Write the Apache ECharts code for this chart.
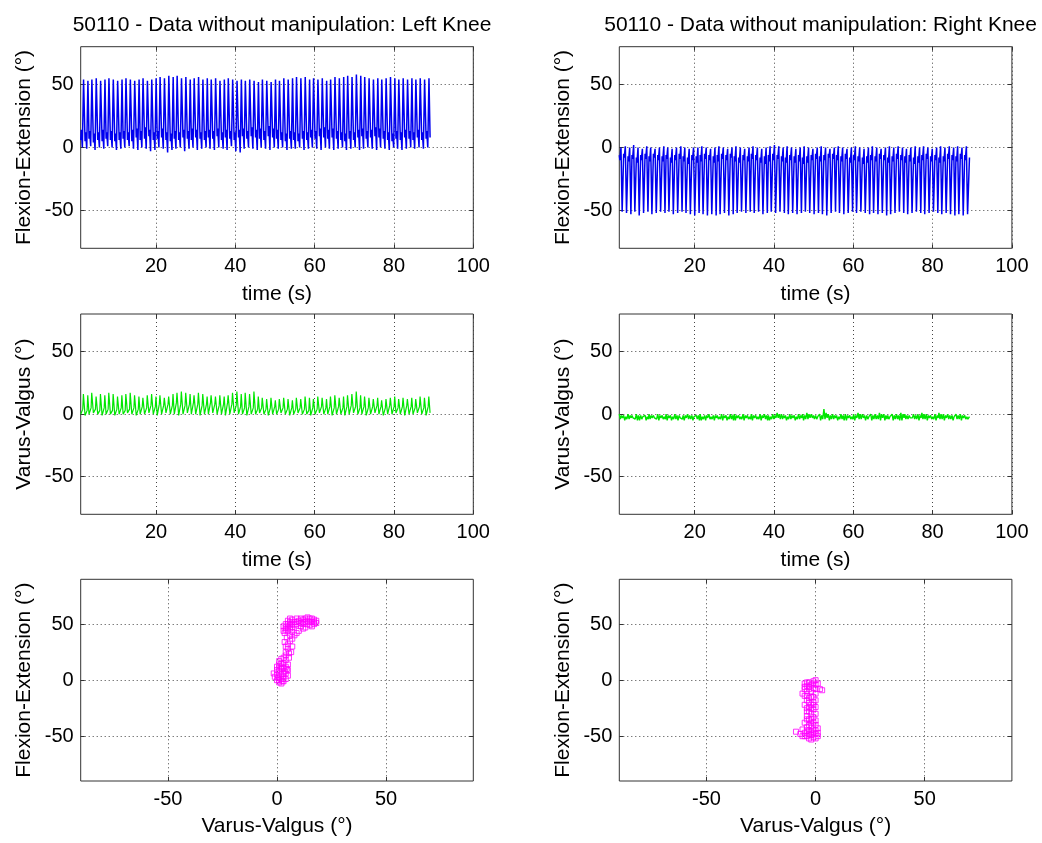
<!DOCTYPE html>
<html>
<head>
<meta charset="utf-8">
<script src="https://cdn.jsdelivr.net/npm/echarts@6/dist/echarts.min.js"></script>
<style>
html,body{margin:0;padding:0;background:#fff;}
#chart{width:1042px;height:843px;}
</style>
</head>
<body>
<div id="chart"></div>
<script>
// ---------- DATA ----------
const titles = ['50110 - Data without manipulation: Left Knee', '50110 - Data without manipulation: Right Knee'];
const timeTicks = [20, 40, 60, 80, 100];
const angleTicks = [-50, 0, 50];

// cycle start times (s), left knee
const tL = [
  1.0, 2.1, 3.1, 4.2, 5.3, 6.4, 7.4, 8.5, 9.6, 10.7,
  11.7, 12.8, 13.9, 15.0, 16.0, 17.1, 18.2, 19.3, 20.3, 21.4,
  22.5, 23.6, 24.6, 25.7, 26.8, 27.9, 28.9, 30.0, 31.1, 32.2,
  33.2, 34.3, 35.4, 36.5, 37.5, 38.6, 39.7, 40.8, 41.8, 42.9,
  44.0, 45.1, 46.1, 47.2, 48.3, 49.4, 50.4, 51.5, 52.6, 53.7,
  54.7, 55.8, 56.9, 58.0, 59.0, 60.1, 61.2, 62.3, 63.3, 64.4,
  65.5, 66.6, 67.6, 68.7, 69.8, 70.9, 71.9, 73.0, 74.1, 75.2,
  76.2, 77.3, 78.4, 79.5, 80.5, 81.6, 82.7, 83.8, 84.8, 85.9,
  87.0, 88.1
];
// left knee flexion-extension per cycle: heel strike, stance flexion, extension low, swing peak
const heelFL = [
  6, 5, 7, 4, 6, 5, 7, 6, 5, 6,
  7, 6, 5, 8, 6, 7, 9, 6, 7, 8,
  6, 5, 7, 6, 8, 7, 6, 8, 7, 6,
  8, 7, 9, 6, 8, 7, 6, 8, 9, 7,
  9, 8, 7, 6, 9, 8, 7, 6, 5, 7,
  6, 5, 7, 6, 8, 7, 9, 8, 7, 8,
  7, 6, 5, 7, 6, 8, 9, 7, 8, 9,
  8, 7, 6, 5, 7, 6, 8, 7, 6, 8,
  6, 7
];
const stanceFL = [
  14, 12, 13, 11, 12, 14, 12, 13, 11, 12,
  13, 12, 14, 15, 13, 16, 14, 12, 13, 15,
  12, 11, 13, 12, 14, 13, 15, 14, 12, 13,
  14, 13, 15, 12, 14, 13, 12, 14, 15, 13,
  16, 14, 15, 13, 17, 15, 14, 12, 11, 13,
  12, 11, 13, 12, 14, 13, 15, 16, 14, 15,
  13, 12, 11, 13, 12, 14, 15, 13, 14, 16,
  15, 13, 12, 11, 13, 12, 14, 13, 12, 14,
  12, 13
];
const lowFL = [
  0, -1, 1, -2, 0, -1, 1, 0, -2, -1,
  0, 1, -1, -2, 0, -1, -3, -2, 0, -1,
  -4, -2, -1, 0, -3, -1, 0, -2, -1, 0,
  -1, -2, 0, -1, -2, 1, -3, -4, -1, 0,
  -1, -2, 0, -1, -2, 0, -1, 0, -2, -1,
  -1, 0, -2, -1, 0, -1, -2, 0, -1, -2,
  -1, 0, -2, -1, 0, -2, -1, 0, -1, -2,
  0, -1, -2, 0, -1, -2, -1, 0, -1, 0,
  -1, 0
];
const peakFL = [
  54, 53, 54, 55, 53, 54, 55, 54, 53, 54,
  55, 54, 53, 54, 55, 53, 54, 55, 56, 55,
  57, 56, 57, 55, 56, 54, 55, 56, 54, 55,
  54, 55, 53, 54, 55, 54, 53, 54, 53, 54,
  53, 52, 54, 53, 52, 54, 53, 55, 54, 55,
  56, 55, 56, 54, 55, 54, 55, 53, 54, 56,
  55, 56, 57, 56, 58, 57, 56, 55, 54, 55,
  54, 55, 56, 55, 54, 55, 54, 55, 54, 55,
  54, 55
];
const endFL = [89.1, 8];

// left knee varus-valgus per cycle: low, plateau, spike peak
const lowVL = [
  0, -1, 0, 1, 0, -1, 0, 0, -1, 0,
  0, 1, 0, -1, 0, 0, 1, 0, -1, 0,
  1, 0, 0, -1, 0, 1, 0, 0, -1, 0,
  0, 1, 0, 0, -1, 0, 1, 0, 0, -1,
  0, 0, 1, 0, -1, 0, 0, 1, 0, -1,
  0, 1, 0, 0, -1, 0, 1, 0, 0, -1,
  0, 0, -1, 0, 1, 0, 0, -1, 0, 1,
  0, -1, 0, 0, 1, 0, -1, 0, 0, 1,
  0, -1
];
const midVL = [
  4, 3, 5, 4, 3, 5, 4, 3, 4, 5,
  3, 4, 5, 4, 6, 5, 7, 6, 8, 7,
  8, 7, 9, 8, 7, 8, 9, 8, 7, 8,
  9, 8, 7, 8, 9, 8, 7, 6, 5, 6,
  5, 4, 5, 4, 5, 6, 4, 5, 4, 5,
  4, 5, 4, 3, 5, 4, 6, 5, 6, 5,
  6, 5, 6, 7, 6, 5, 6, 5, 6, 7,
  6, 5, 7, 6, 5, 6, 7, 6, 5, 6,
  5, 6
];
const peakVL = [
  16, 15, 17, 14, 16, 15, 17, 16, 14, 15,
  16, 17, 15, 14, 13, 15, 16, 14, 15, 13,
  14, 16, 17, 18, 17, 16, 15, 17, 16, 14,
  15, 14, 15, 14, 15, 17, 18, 16, 17, 16,
  18, 14, 13, 12, 13, 11, 12, 13, 12, 11,
  13, 12, 14, 13, 12, 14, 13, 12, 14, 15,
  13, 14, 15, 16, 18, 15, 14, 13, 12, 13,
  11, 12, 13, 14, 12, 13, 12, 13, 12, 14,
  13, 14
];
const endVL = [89.1, 1];

// cycle start times (s), right knee
const tR = [
  1.0, 2.1, 3.2, 4.2, 5.3, 6.4, 7.5, 8.5, 9.6, 10.7,
  11.8, 12.8, 13.9, 15.0, 16.1, 17.1, 18.2, 19.3, 20.4, 21.4,
  22.5, 23.6, 24.7, 25.7, 26.8, 27.9, 29.0, 30.0, 31.1, 32.2,
  33.3, 34.3, 35.4, 36.5, 37.6, 38.6, 39.7, 40.8, 41.9, 42.9,
  44.0, 45.1, 46.2, 47.2, 48.3, 49.4, 50.5, 51.5, 52.6, 53.7,
  54.8, 55.8, 56.9, 58.0, 59.1, 60.1, 61.2, 62.3, 63.4, 64.4,
  65.5, 66.6, 67.7, 68.7, 69.8, 70.9, 72.0, 73.0, 74.1, 75.2,
  76.3, 77.3, 78.4, 79.5, 80.6, 81.6, 82.7, 83.8, 84.9, 85.9,
  87.0, 88.1
];
// right knee flexion-extension per cycle (flexion negative)
const heelFR = [
  -6, -5, -7, -6, -8, -6, -5, -7, -5, -6,
  -7, -6, -8, -6, -5, -7, -8, -6, -7, -6,
  -5, -6, -7, -6, -5, -6, -5, -7, -8, -6,
  -7, -5, -6, -8, -7, -6, -5, -6, -7, -8,
  -6, -7, -6, -8, -7, -6, -5, -7, -6, -5,
  -5, -6, -7, -5, -8, -6, -7, -8, -7, -6,
  -7, -5, -6, -8, -7, -5, -6, -7, -6, -8,
  -7, -6, -5, -7, -6, -8, -7, -5, -6, -7,
  -5, -6
];
const stanceFR = [
  -10, -8, -11, -9, -12, -10, -9, -11, -8, -10,
  -11, -9, -12, -10, -9, -11, -13, -10, -12, -11,
  -9, -10, -12, -11, -9, -10, -8, -11, -12, -10,
  -11, -9, -10, -12, -13, -11, -10, -9, -11, -12,
  -10, -12, -11, -13, -12, -10, -9, -11, -10, -8,
  -9, -10, -11, -9, -12, -10, -11, -13, -12, -10,
  -11, -9, -10, -12, -11, -9, -10, -12, -11, -13,
  -12, -10, -9, -11, -10, -12, -11, -9, -10, -11,
  -9, -10
];
const highFR = [
  0, 1, 0, 2, 0, -1, 1, 0, -1, 0,
  1, 0, -1, 0, 1, 0, -1, 0, 0, 1,
  0, -1, 0, 1, 0, -1, 0, 1, 0, -1,
  0, 1, 0, -1, 0, 1, 2, 1, 0, 1,
  0, -1, 0, 1, 0, -1, 0, 1, 0, -1,
  0, 1, 0, -1, 0, 1, 0, -1, 0, 1,
  0, -1, 0, 1, 0, 1, 0, -1, 0, 1,
  0, 1, 0, -1, 0, 1, 0, 1, 0, 1,
  0, 1
];
const bottomFR = [
  -51, -52, -53, -51, -54, -52, -51, -53, -52, -51,
  -52, -51, -53, -52, -51, -52, -53, -54, -52, -53,
  -54, -53, -54, -53, -52, -54, -53, -52, -51, -52,
  -51, -52, -51, -53, -52, -51, -52, -51, -52, -53,
  -52, -53, -52, -51, -52, -53, -52, -53, -54, -52,
  -51, -52, -53, -52, -51, -52, -51, -52, -53, -52,
  -53, -52, -54, -53, -52, -51, -52, -53, -52, -51,
  -52, -53, -52, -51, -52, -53, -52, -53, -54, -53,
  -54, -53
];
const endFR = [89.3, -8];

// right knee varus-valgus per cycle: two small oscillations
const hiVR = [
  0, -1, 0, -1, 0, -1, -1, 0, -1, 0,
  -1, 0, -1, 0, -1, -1, 0, -1, -1, 0,
  -1, 0, -1, -1, 0, -1, 0, 0, -1, 0,
  -1, 0, -1, 0, 0, -1, 0, 1, 0, -1,
  0, -1, 0, 0, 1, 0, -1, 0, 4, 0,
  0, -1, 0, 0, -1, 0, 1, 0, -1, 0,
  0, 1, 0, -1, 0, 0, 1, 0, -1, 0,
  0, 1, 0, -1, 0, 1, 0, 0, -1, 0,
  0, -1
];
const loVR = [
  -4, -5, -4, -3, -5, -4, -5, -4, -3, -5,
  -4, -5, -5, -4, -3, -5, -4, -5, -4, -5,
  -5, -4, -5, -4, -5, -5, -4, -5, -4, -5,
  -4, -5, -4, -5, -4, -5, -4, -3, -4, -5,
  -4, -5, -4, -5, -4, -3, -4, -5, -4, -5,
  -4, -5, -4, -5, -4, -5, -4, -3, -4, -5,
  -4, -5, -5, -4, -5, -4, -5, -4, -3, -4,
  -5, -4, -5, -4, -5, -4, -5, -4, -5, -4,
  -5, -4
];
const hi2VR = [
  -1, -2, -1, -2, -1, -2, -2, -1, -2, -1,
  -2, -1, -2, -1, -2, -1, -1, -2, -1, -2,
  -1, -2, -1, -2, -1, -2, -1, -1, -2, -1,
  -2, -1, -2, -1, -1, -2, -1, 0, -1, -2,
  -1, -2, -1, -1, 0, -1, -2, -1, 1, -1,
  -1, -2, -1, -1, -2, -1, 0, -1, -2, -1,
  -1, 0, -1, -2, -1, -1, 0, -1, -2, -1,
  -1, 0, -1, -2, -1, 0, -1, -1, -2, -1,
  -1, -2
];
const lo2VR = [
  -3, -4, -3, -4, -5, -3, -4, -3, -4, -3,
  -4, -3, -4, -5, -4, -3, -4, -3, -5, -4,
  -3, -4, -3, -4, -3, -4, -5, -3, -4, -3,
  -4, -3, -4, -3, -5, -4, -3, -4, -3, -4,
  -3, -4, -3, -4, -3, -4, -3, -4, -3, -4,
  -3, -4, -5, -3, -4, -3, -4, -5, -3, -4,
  -4, -3, -4, -3, -4, -5, -3, -4, -3, -4,
  -3, -4, -3, -4, -3, -4, -3, -4, -3, -4,
  -3, -4
];
const endVR = [89.3, -2];

// time (s after cycle start) of each key value inside a cycle
const phaseFE = [0, 0.15, 0.42, 0.72];
const phaseVL = [0, 0.52, 0.68];
const phaseVR = [0, 0.27, 0.54, 0.8];

// Varus-Valgus (x) vs Flexion-Extension (y) scatter, degrees
const scatterL = [
  [0,5],[0.5,2],[1,-2],[2,-3],[3,-1],[4,1],[1,8],[2,5],[3,3],[4,6],[4.5,10],[2,12],
  [3,15],[1,17],[4,18],[5,14],[3,20],[4,22],[2,10],[0,9],[1,0],[3.5,8],[5,4],[2.5,-1],
  [-1,3],[-1.5,6],[0,12],[1,14],[2,19],[0,0],[1,3],[2,1],[3,6],[4,12],[5,9],[1,11],[2,15],[3,11],
  [4,25],[5,28],[5,32],[6,35],[4.5,38],[6,40],[5,44],[3.5,42],[7,30],[6.5,25],[5.5,20],[7,37],
  [4,30],[3.5,34],[5.5,24],
  [3,48],[4,45],[5,50],[6,52],[7,47],[8,52],[9,50],[10,53],[11,51],[12,54],[13,52],[14,53],
  [15,55],[16,52],[17,54],[17,50],[16,48],[15,49],[13,47],[12,46],[10,44],[9,42],[8,40],
  [7,43],[6,46],[11,48],[14,50],[18,53],[9,55],[6,49],[4,50],[3,44],[12,50],[16,55],[7,50],
  [5,47],[8,49],[11,55],[13,55],[14,56],[15,52],[17,52],[18,51],[9,52],[6,55],[5,53],[7,54],[12,52],[4,47]
];
const scatterR = [
  [-5,-3],[-4,-5],[-3,-2],[-1,-1],[0,0],[0,-4],[1,-3],[2,-8],[3,-9],[-5,-8],[-4,-10],
  [-5,-14],[-2,-10],[-1,-7],[0,-12],[-1,-15],[-4,-18],[-3,-20],[-2,-22],[-1,-20],[0,-18],
  [-4,-25],[-3,-28],[-2,-30],[-1,-26],[0,-24],[-4,-32],[-3,-35],[-2,-38],[-1,-33],[0,-30],
  [-5,-38],[-4,-42],[-3,-45],[-2,-41],[-1,-44],[0,-40],[1,-43],[-6,-44],[-5,-47],[-4,-50],
  [-3,-52],[-2,-49],[-1,-51],[0,-48],[1,-50],[-9,-46],[-7,-48],[-6,-50],[0,-52],[-2,-53],
  [-5,-6],[-6,-12],[-3,-16],[1,-47],[-5,-22],[-4,-28],[-2,-46],[-3,-8],[0,-36],
  [-4,-2],[-2,-4],[-1,-3],[-3,-6],[-4,-35],[-3,-40],[-2,-35],[-1,-38],[-4,-45],[-5,-50],
  [-3,-48],[-1,-47],[0,-45],[-2,-25],[-1,-22],[-3,-24],[0,-8],[-2,-15],[-4,-14]
];

// ---------- build ----------
function cycles(times, phases, vals, endPt) {
  const out = [];
  for (let i = 0; i < times.length; i++) {
    for (let k = 0; k < phases.length; k++) {
      out.push([+(times[i] + phases[k]).toFixed(2), vals[k][i]]);
    }
  }
  out.push(endPt);
  return out;
}
const dataFL = cycles(tL, phaseFE, [heelFL, stanceFL, lowFL, peakFL], endFL);
const dataFR = cycles(tR, phaseFE, [heelFR, stanceFR, highFR, bottomFR], endFR);
const dataVL = cycles(tL, phaseVL, [lowVL, midVL, peakVL], endVL);
const dataVR = cycles(tR, phaseVR, [hiVR, loVR, hi2VR, lo2VR], endVR);

const FONT = 'Liberation Sans, Arial, Helvetica, sans-serif';
const TXT = '#000';
const LEFTS = [80.7, 619.3];
const W = 392.6;
const TOPS = [46.7, 314, 579.3];
const HS = [201.6, 200.3, 201.7];

const grids = [], xAxes = [], yAxes = [], series = [];
const gridLine = {show: true, lineStyle: {color: '#444', width: 1, type: [1, 3]}};
const noLine = {show: false, onZero: false};

function addPanel(row, col, cfg) {
  const gi = grids.length;
  grids.push({left: LEFTS[col], top: TOPS[row], width: W, height: HS[row],
    show: true, borderColor: '#333', borderWidth: 1, backgroundColor: '#fff', containLabel: false});
  const tick = (vals) => ({show: true, inside: true, length: 4, customValues: vals, lineStyle: {color: '#333'}});
  const xb = {
    type: 'value', gridIndex: gi, min: cfg.xmin, max: cfg.xmax, position: 'bottom',
    axisLine: noLine, axisTick: tick(cfg.xticks),
    axisLabel: {show: true, customValues: cfg.xticks, margin: 8, fontSize: 20, color: TXT, fontFamily: FONT},
    splitLine: gridLine,
    name: cfg.xname, nameLocation: 'middle', nameGap: 35,
    nameTextStyle: {fontSize: 21, color: TXT, fontFamily: FONT}
  };
  const xt = {
    type: 'value', gridIndex: gi, min: cfg.xmin, max: cfg.xmax, position: 'top',
    axisLine: noLine, axisTick: tick(cfg.xticks),
    axisLabel: {show: false}, splitLine: {show: false}
  };
  const yl = {
    type: 'value', gridIndex: gi, min: cfg.ymin, max: cfg.ymax, position: 'left',
    axisLine: noLine, axisTick: tick(cfg.yticks),
    axisLabel: {show: true, customValues: cfg.yticks, margin: 7, fontSize: 20, color: TXT, fontFamily: FONT},
    splitLine: gridLine,
    name: cfg.yname, nameLocation: 'middle', nameGap: 46, nameRotate: 90,
    nameTextStyle: {fontSize: 21, color: TXT, fontFamily: FONT}
  };
  const yr = {
    type: 'value', gridIndex: gi, min: cfg.ymin, max: cfg.ymax, position: 'right',
    axisLine: noLine, axisTick: tick(cfg.yticks),
    axisLabel: {show: false}, splitLine: {show: false}
  };
  const xi = xAxes.length; xAxes.push(xb, xt);
  const yi = yAxes.length; yAxes.push(yl, yr);
  cfg.series.forEach(s => { s.xAxisIndex = xi; s.yAxisIndex = yi; series.push(s); });
}

function lineSeries(data, color, w) {
  return {type: 'line', data: data, showSymbol: false, symbol: 'none', sampling: null,
    lineStyle: {color: color, width: w}, animation: false, clip: true, silent: true};
}
function scatterSeries(data) {
  return {type: 'scatter', data: data, symbol: 'rect', symbolSize: 5,
    itemStyle: {color: 'rgba(0,0,0,0)', borderColor: '#ff00ff', borderWidth: 1},
    animation: false, silent: true};
}

const timeCfg = {xmin: 1, xmax: 100, xticks: timeTicks, ymin: -80, ymax: 80, yticks: angleTicks, xname: 'time (s)'};
addPanel(0, 0, Object.assign({}, timeCfg, {yname: 'Flexion-Extension (°)', series: [lineSeries(dataFL, '#0000f0', 1.5)]}));
addPanel(0, 1, Object.assign({}, timeCfg, {yname: 'Flexion-Extension (°)', series: [lineSeries(dataFR, '#0000f0', 1.5)]}));
addPanel(1, 0, Object.assign({}, timeCfg, {yname: 'Varus-Valgus (°)', series: [lineSeries(dataVL, '#00e600', 1.2)]}));
addPanel(1, 1, Object.assign({}, timeCfg, {yname: 'Varus-Valgus (°)', series: [lineSeries(dataVR, '#00e600', 1.4)]}));
const scCfg = {xmin: -90, xmax: 90, xticks: angleTicks, ymin: -90, ymax: 90, yticks: angleTicks,
  xname: 'Varus-Valgus (°)', yname: 'Flexion-Extension (°)'};
addPanel(2, 0, Object.assign({}, scCfg, {series: [scatterSeries(scatterL)]}));
addPanel(2, 1, Object.assign({}, scCfg, {series: [scatterSeries(scatterR)]}));

const chart = echarts.init(document.getElementById('chart'), null, {renderer: 'canvas'});
chart.setOption({
  backgroundColor: '#fff',
  animation: false,
  title: [
    {text: titles[0], left: LEFTS[0] + W / 2, top: 10, textAlign: 'center',
      textStyle: {fontSize: 21, fontWeight: 'normal', color: TXT, fontFamily: FONT}},
    {text: titles[1], left: LEFTS[1] + W / 2, top: 10, textAlign: 'center',
      textStyle: {fontSize: 21, fontWeight: 'normal', color: TXT, fontFamily: FONT}}
  ],
  grid: grids, xAxis: xAxes, yAxis: yAxes, series: series
});
</script>
</body>
</html>
